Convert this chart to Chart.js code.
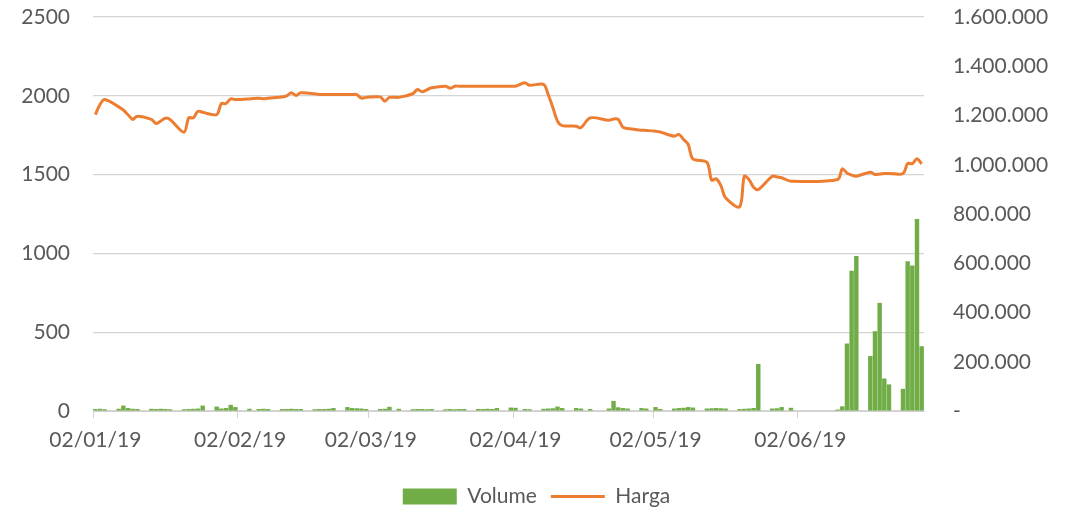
<!DOCTYPE html>
<html>
<head>
<meta charset="utf-8">
<script src="https://cdn.jsdelivr.net/npm/chart.js@4/dist/chart.umd.min.js"></script>
<style>
  body { margin: 0; background: #fff; }
</style>
</head>
<body>
<canvas id="myChart" width="1073" height="508"></canvas>
<script>
// hari bursa (tanpa libur), dd/mm/yy
const tradingDays = [
    '02/01/19','03/01/19','04/01/19','07/01/19','08/01/19','09/01/19','10/01/19','11/01/19','14/01/19','15/01/19','16/01/19','17/01/19','18/01/19','21/01/19','22/01/19','23/01/19','24/01/19','25/01/19','28/01/19','29/01/19','30/01/19','31/01/19',
    '01/02/19','04/02/19','06/02/19','07/02/19','08/02/19','11/02/19','12/02/19','13/02/19','14/02/19','15/02/19','18/02/19','19/02/19','20/02/19','21/02/19','22/02/19','25/02/19','26/02/19','27/02/19','28/02/19',
    '01/03/19','04/03/19','05/03/19','06/03/19','08/03/19','11/03/19','12/03/19','13/03/19','14/03/19','15/03/19','18/03/19','19/03/19','20/03/19','21/03/19','22/03/19','25/03/19','26/03/19','27/03/19','28/03/19','29/03/19',
    '01/04/19','02/04/19','04/04/19','05/04/19','08/04/19','09/04/19','10/04/19','11/04/19','12/04/19','15/04/19','16/04/19','18/04/19','22/04/19','23/04/19','24/04/19','25/04/19','26/04/19','29/04/19','30/04/19',
    '02/05/19','03/05/19','06/05/19','07/05/19','08/05/19','09/05/19','10/05/19','13/05/19','14/05/19','15/05/19','16/05/19','17/05/19','20/05/19','21/05/19','22/05/19','23/05/19','24/05/19','27/05/19','28/05/19','29/05/19','31/05/19',
    '10/06/19','11/06/19','12/06/19','13/06/19','14/06/19','17/06/19','18/06/19','19/06/19','20/06/19','21/06/19','24/06/19','25/06/19','26/06/19','27/06/19','28/06/19'
];

const harga = [
    1881,1945,1976,1930,1910,1880,1850,1871,1850,1824,1840,1858,1850,1769,1860,1860,1902,1895,1881,1951,1951,1981,
    1976,1980,1985,1981,1985,1993,2000,2019,2002,2019,2013,2008,2008,2008,2008,2008,2008,2008,1985,
    1990,1993,1966,1990,1990,2013,2040,2025,2038,2051,2061,2048,2061,2061,2061,2061,2061,2061,2061,2061,
    2061,2061,2083,2067,2072,2008,1925,1839,1811,1807,1797,1860,1845,1853,1850,1801,1792,1782,1780,
    1775,1770,1744,1755,1723,1691,1600,1579,1465,1473,1430,1353,1296,1490,1469,1420,1405,1490,1485,1480,1458,
    1469,1537,1510,1497,1490,1515,1501,1503,1507,1507,1507,1570,1570,1600,1568
];

const volume = [
    8000,9000,7000,9000,22000,12000,9000,8000,9000,8000,9000,8000,7000,7000,8000,9000,10000,22000,18000,10000,12000,25000,
    16000,9000,8000,9000,8000,8000,8000,9000,8000,8000,7000,8000,8000,9000,12000,16000,12000,11000,10000,
    8000,8000,9000,17000,9000,7000,8000,8000,7000,8000,7000,8000,7000,8000,8000,8000,8000,9000,8000,12000,
    14000,13000,8000,7000,9000,10000,11000,18000,12000,12000,10000,8000,10000,41000,15000,12000,10000,12000,10000,
    16000,8000,10000,12000,13000,16000,14000,10000,11000,12000,11000,10000,8000,9000,10000,12000,191000,10000,11000,16000,13000,
    6000,19000,274000,570000,629000,223000,324000,439000,132000,108000,90000,608000,591000,780000,263000
];

const tickLabels = ['02/01/19','02/02/19','02/03/19','02/04/19','02/05/19','02/06/19'];

// sumbu tanggal: semua hari kalender dari hari pertama sampai terakhir
function pad(n) { return (n < 10 ? '0' : '') + n; }
function parseDay(s) {
    var p = s.split('/');
    return new Date(Date.UTC(2000 + Number(p[2]), Number(p[1]) - 1, Number(p[0])));
}
var calendar = [];
var day = parseDay(tradingDays[0]);
var lastDay = parseDay(tradingDays[tradingDays.length - 1]);
while (day <= lastDay) {
    calendar.push(pad(day.getUTCDate()) + '/' + pad(day.getUTCMonth() + 1) + '/' + String(day.getUTCFullYear()).slice(2));
    day.setUTCDate(day.getUTCDate() + 1);
}
var hargaData = calendar.map(l => { var i = tradingDays.indexOf(l); return i < 0 ? null : harga[i]; });
var volumeData = calendar.map(l => { var i = tradingDays.indexOf(l); return i < 0 ? null : volume[i]; });

function dots(v) {
    if (v === 0) return '-';
    return String(v).replace(/\B(?=(\d{3})+(?!\d))/g, '.');
}

Chart.defaults.font.family = 'Lato, "Open Sans", sans-serif';
Chart.defaults.font.size = 21;
Chart.defaults.color = '#595959';

const data = {
    labels: calendar,
    datasets: [{
        type: 'bar',
        label: 'Volume',
        data: volumeData,
        yAxisID: 'y1',
        backgroundColor: '#70AD47',
        borderWidth: 0,
        barPercentage: 1,
        categoryPercentage: 0.95,
        pointStyle: 'rect'
    }, {
        type: 'line',
        label: 'Harga',
        data: hargaData,
        yAxisID: 'y',
        borderColor: '#ED7D31',
        backgroundColor: '#ED7D31',
        borderWidth: 3,
        pointRadius: 0,
        pointStyle: 'line',
        tension: 0.3,
        spanGaps: true
    }]
};

const config = {
    type: 'bar',
    data,
    options: {
        responsive: false,
        animation: false,
        devicePixelRatio: 1,
        layout: { padding: { top: 17, left: 0, right: 0, bottom: 0 } },
        plugins: {
            tooltip: { enabled: false },
            legend: {
                position: 'bottom',
                maxHeight: 36,
                labels: {
                    usePointStyle: true,
                    pointStyleWidth: 54,
                    boxHeight: 16,
                    padding: 14
                }
            }
        },
        scales: {
            x: {
                afterFit: (s) => { s.height = 61; },
                border: { color: '#d0d0d0' },
                grid: {
                    drawOnChartArea: false,
                    drawTicks: true,
                    tickLength: 7,
                    color: (c) => (c.tick && tickLabels.includes(calendar[c.index])) ? '#d0d0d0' : 'transparent'
                },
                ticks: {
                    autoSkip: false,
                    maxRotation: 0,
                    minRotation: 0,
                    padding: 10,
                    callback: function (v) {
                        var l = this.getLabelForValue(v);
                        return tickLabels.includes(l) ? l : '';
                    }
                }
            },
            y: {
                position: 'left',
                min: 0,
                max: 2500,
                afterFit: (s) => { s.width = 93; },
                border: { display: false },
                grid: { color: '#d4d4d4', lineWidth: 1.3, drawTicks: true, tickLength: 23, tickColor: 'transparent' },
                ticks: { stepSize: 500, padding: 0, callback: (v) => String(v) }
            },
            y1: {
                position: 'right',
                min: 0,
                max: 1600000,
                afterFit: (s) => { s.width = 149; },
                border: { display: false },
                grid: { drawOnChartArea: false, drawTicks: true, tickLength: 29, tickColor: 'transparent' },
                ticks: { stepSize: 200000, padding: 0, callback: (v) => dots(v) }
            }
        }
    }
};

new Chart(document.getElementById('myChart'), config);
</script>
</body>
</html>
